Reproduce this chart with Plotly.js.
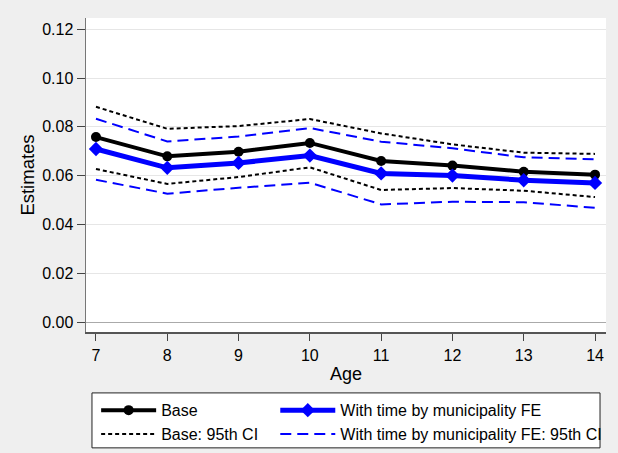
<!DOCTYPE html>
<html><head><meta charset="utf-8">
<script src="https://cdn.plot.ly/plotly-3.0.1.min.js"></script>
<style>html,body{margin:0;padding:0;background:#efefef}#chart{width:618px;height:453px}</style>
</head><body><div id="chart"></div>
<script>
const ages = [7, 8, 9, 10, 11, 12, 13, 14];
const baseEst = [0.0758, 0.0679, 0.0698, 0.0734, 0.0660, 0.0641, 0.0616, 0.0604];
const baseUpper = [0.0882, 0.0792, 0.0803, 0.0832, 0.0773, 0.0728, 0.0694, 0.0689];
const baseLower = [0.0627, 0.0566, 0.0594, 0.0634, 0.0541, 0.0549, 0.0538, 0.0512];
const feEst = [0.0709, 0.0632, 0.0652, 0.0682, 0.0609, 0.0600, 0.0581, 0.0570];
const feUpper = [0.0833, 0.0740, 0.0760, 0.0795, 0.0739, 0.0712, 0.0675, 0.0667];
const feLower = [0.0583, 0.0526, 0.0550, 0.0571, 0.0482, 0.0493, 0.0491, 0.0468];
const yTicks = [0, 0.02, 0.04, 0.06, 0.08, 0.10, 0.12];
const yTickLabels = ["0.00", "0.02", "0.04", "0.06", "0.08", "0.10", "0.12"];

const F = "Liberation Sans, Arial, sans-serif";
const dotLine = {color: "#000000", width: 2, dash: "4px,3px"};
const dashLine = {color: "#0000ff", width: 2, dash: "11px,6px"};

const traces = [
  {x: ages, y: baseUpper, mode: "lines", line: dotLine, name: "Base: 95th CI", legend: "legend", legendgroup: "bci", legendrank: 2, showlegend: true},
  {x: ages, y: baseLower, mode: "lines", line: dotLine, name: "Base: 95th CI", legend: "legend", legendgroup: "bci", showlegend: false},
  {x: ages, y: feUpper, mode: "lines", line: dashLine, name: "With time by municipality FE: 95th CI", legend: "legend2", legendgroup: "fci", legendrank: 2, showlegend: true},
  {x: ages, y: feLower, mode: "lines", line: dashLine, name: "With time by municipality FE: 95th CI", legend: "legend2", legendgroup: "fci", showlegend: false},
  {x: ages, y: baseEst, mode: "lines+markers", line: {color: "#000000", width: 4}, marker: {symbol: "circle", size: 10, color: "#000000"}, name: "Base", legend: "legend", legendrank: 1},
  {x: ages, y: feEst, mode: "lines+markers", line: {color: "#0000ff", width: 5}, marker: {symbol: "diamond", size: 11, color: "#0000ff"}, name: "With time by municipality FE", legend: "legend2", legendrank: 1}
];

const legCommon = {orientation: "v", yanchor: "top", xanchor: "left", bgcolor: "rgba(0,0,0,0)", borderwidth: 0,
  font: {family: F, size: 16, color: "#000"}, itemwidth: 55, tracegroupgap: 3, traceorder: "normal", itemclick: false};

const layout = {
  width: 618, height: 453,
  paper_bgcolor: "#efefef", plot_bgcolor: "#ffffff",
  margin: {l: 86, r: 12, t: 18, b: 121, autoexpand: false},
  font: {family: F, size: 16, color: "#000"},
  xaxis: {range: [6.86, 14.154], tickvals: ages, ticks: "outside", ticklen: 7, tickwidth: 1, tickcolor: "#444",
    showgrid: false, zeroline: false, showline: true, linecolor: "#555", linewidth: 1.5,
    ticklabelstandoff: 1, automargin: false,
    tickfont: {family: F, size: 16, color: "#000"},
    title: {text: "Age", font: {family: F, size: 18, color: "#000"}, standoff: 4}},
  yaxis: {range: [-0.0041, 0.1246], tickvals: yTicks, ticktext: yTickLabels, ticks: "outside", ticklen: 8, tickwidth: 1, tickcolor: "#444",
    showgrid: true, gridcolor: "#e6e6e6", gridwidth: 1, zeroline: true, zerolinecolor: "#aaaaaa", zerolinewidth: 1,
    showline: true, linecolor: "#777", linewidth: 1.5, automargin: false,
    tickfont: {family: F, size: 16, color: "#000"},
    title: {text: "Estimates", font: {family: F, size: 18.5, color: "#000"}, standoff: 2}},
  showlegend: true,
  legend: Object.assign({}, legCommon, {x: 0.0195, y: -0.195}),
  legend2: Object.assign({}, legCommon, {x: 0.364, y: -0.195}),
  shapes: [{type: "rect", xref: "paper", yref: "paper", x0: 0.0115, x1: 0.9885, y0: -0.194, y1: -0.369,
    line: {color: "#222", width: 1}, fillcolor: "#ffffff", layer: "below"}]
};

Plotly.newPlot("chart", traces, layout, {displayModeBar: false, staticPlot: true});
</script></body></html>
